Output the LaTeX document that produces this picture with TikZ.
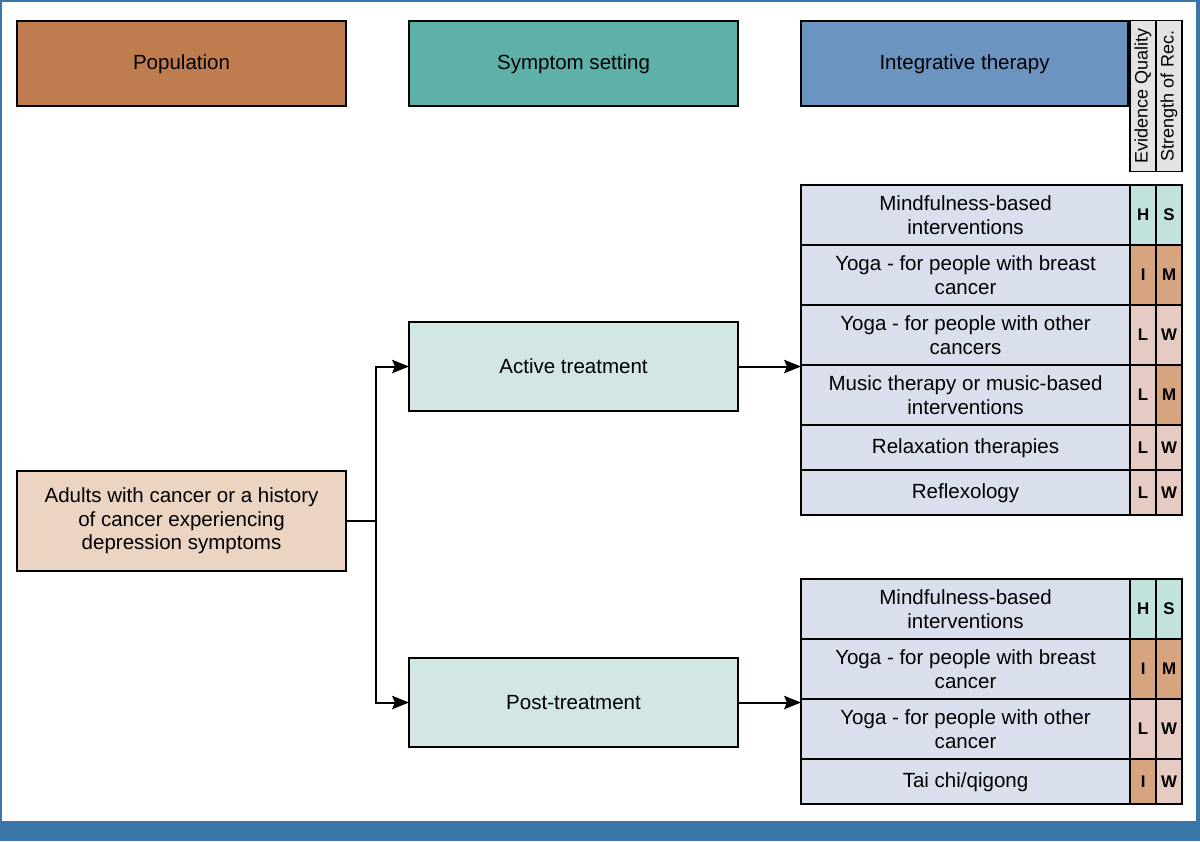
\documentclass[tikz,border=0pt]{standalone}
\usepackage{fontspec}
\setmainfont{Liberation Sans}
\usetikzlibrary{arrows.meta,positioning}

\definecolor{frameblue}{HTML}{3A76A8}
\definecolor{popbrown}{HTML}{BF7D4F}
\definecolor{symteal}{HTML}{5DB1A9}
\definecolor{intblue}{HTML}{6B94C0}
\definecolor{headgrey}{HTML}{E3E3E3}
\definecolor{adultfill}{HTML}{EBD4C2}
\definecolor{settingfill}{HTML}{D2E6E5}
\definecolor{therapyfill}{HTML}{D9DFEC}
\definecolor{gradehigh}{HTML}{C2E2DE}
\definecolor{grademid}{HTML}{D6A47E}
\definecolor{gradelow}{HTML}{E6CAC4}

\begin{document}
\begin{tikzpicture}[x=0.025cm, y=-0.025cm]
        % Box style definitions
        \tikzset{
            cell/.style={draw=black, line width=1.1pt, outer sep=0pt, inner sep=2pt, align=center, font=\fontsize{14.6}{16.8}\selectfont},
            bigbox/.style={cell, anchor=north west, minimum width=8.225cm},
            head/.style={bigbox, minimum height=2.125cm},
            colhead/.style={cell, fill=headgrey, rotate=90, minimum width=3.775cm, minimum height=0.65cm, font=\fontsize{12.8}{14}\selectfont},
            therapy/.style={cell, fill=therapyfill, minimum width=8.225cm},
            grade/.style={cell, minimum width=0.65cm, font=\bfseries\fontsize{12}{14}\selectfont},
            tall/.style={minimum height=1.5cm},
            short/.style={minimum height=1.125cm},
            link/.style={draw=black, line width=1.4pt, -{Stealth[length=12pt,width=9.5pt,inset=2pt]}}
        }

        % frame and bottom band
        \useasboundingbox (0,0) rectangle (1200,841);
        \fill[frameblue] (0,0) rectangle (1200,841);
        \fill[white] (2,2) rectangle (1196,821);

        % ==========================================
        % HEADERS
        % ==========================================
        \node[head, fill=popbrown, text depth=0.3ex] (pophead) at (17,21) {Population};
        \node[head, fill=symteal, text depth=0.3ex] (symhead) at (409,21) {Symptom setting};
        \node[head, fill=intblue, text depth=0.3ex, minimum width=8.175cm] (inthead) at (801,21) {Integrative therapy};
        \node[colhead] (evidhead) at (1143,96) {Evidence Quality};
        \node[colhead] (strhead) at (1169,96) {Strength of Rec.};

        % ==========================================
        % POPULATION AND SETTINGS
        % ==========================================
        \node[bigbox, fill=adultfill, minimum height=2.5cm] (adults) at (17,471) {Adults with cancer or a history\\of cancer experiencing\\depression symptoms};
        \node[bigbox, fill=settingfill, minimum height=2.225cm] (active) at (409,322) {Active treatment};
        \node[bigbox, fill=settingfill, minimum height=2.225cm] (post) at (409,658) {Post-treatment};

        % ==========================================
        % ACTIVE TREATMENT TABLE
        % ==========================================
        \node[therapy, tall, anchor=north west] (mindA) at (801,185) {Mindfulness-based\\interventions};
        \node[therapy, tall, below=0pt of mindA] (yogabA) {Yoga - for people with breast\\cancer};
        \node[therapy, tall, below=0pt of yogabA] (yogaoA) {Yoga - for people with other\\cancers};
        \node[therapy, tall, below=0pt of yogaoA] (musicA) {Music therapy or music-based\\interventions};
        \node[therapy, short, text depth=0.3ex, below=0pt of musicA] (relaxA) {Relaxation therapies};
        \node[therapy, short, text depth=0.3ex, below=0pt of relaxA] (reflexA) {Reflexology};

        \node[grade, tall, fill=gradehigh, right=0pt of mindA] (mindAq) {H};
        \node[grade, tall, fill=gradehigh, right=0pt of mindAq] (mindAs) {S};
        \node[grade, tall, fill=grademid, right=0pt of yogabA] (yogabAq) {I};
        \node[grade, tall, fill=grademid, right=0pt of yogabAq] (yogabAs) {M};
        \node[grade, tall, fill=gradelow, right=0pt of yogaoA] (yogaoAq) {L};
        \node[grade, tall, fill=gradelow, right=0pt of yogaoAq] (yogaoAs) {W};
        \node[grade, tall, fill=gradelow, right=0pt of musicA] (musicAq) {L};
        \node[grade, tall, fill=grademid, right=0pt of musicAq] (musicAs) {M};
        \node[grade, short, fill=gradelow, right=0pt of relaxA] (relaxAq) {L};
        \node[grade, short, fill=gradelow, right=0pt of relaxAq] (relaxAs) {W};
        \node[grade, short, fill=gradelow, right=0pt of reflexA] (reflexAq) {L};
        \node[grade, short, fill=gradelow, right=0pt of reflexAq] (reflexAs) {W};

        % ==========================================
        % POST-TREATMENT TABLE
        % ==========================================
        \node[therapy, tall, anchor=north west] (mindP) at (801,579) {Mindfulness-based\\interventions};
        \node[therapy, tall, below=0pt of mindP] (yogabP) {Yoga - for people with breast\\cancer};
        \node[therapy, tall, below=0pt of yogabP] (yogaoP) {Yoga - for people with other\\cancer};
        \node[therapy, short, text depth=0.3ex, below=0pt of yogaoP] (taichiP) {Tai chi/qigong};

        \node[grade, tall, fill=gradehigh, right=0pt of mindP] (mindPq) {H};
        \node[grade, tall, fill=gradehigh, right=0pt of mindPq] (mindPs) {S};
        \node[grade, tall, fill=grademid, right=0pt of yogabP] (yogabPq) {I};
        \node[grade, tall, fill=grademid, right=0pt of yogabPq] (yogabPs) {M};
        \node[grade, tall, fill=gradelow, right=0pt of yogaoP] (yogaoPq) {L};
        \node[grade, tall, fill=gradelow, right=0pt of yogaoPq] (yogaoPs) {W};
        \node[grade, short, fill=grademid, right=0pt of taichiP] (taichiPq) {I};
        \node[grade, short, fill=gradelow, right=0pt of taichiPq] (taichiPs) {W};

        % ==========================================
        % CONNECTORS
        % ==========================================
        \draw[line width=1.4pt] (adults.east) -- ++(30,0) coordinate (split);
        \draw[link] (split) |- (active.west);
        \draw[link] (split) |- (post.west);
        \draw[link] (active.east) -- (active.east -| mindA.west);
        \draw[link] (post.east) -- (post.east -| mindP.west);
\end{tikzpicture}
\end{document}
